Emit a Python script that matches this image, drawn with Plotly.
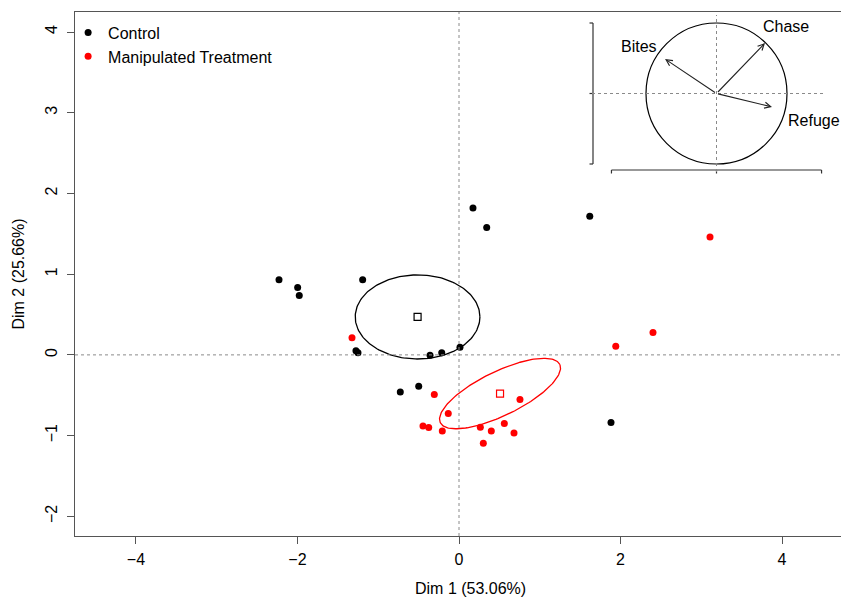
import numpy as np
import plotly.graph_objects as go

# ---------------- data ----------------
group_names = ["Control", "Manipulated Treatment"]

ctrl_x = [-2.229, -1.998, -1.978, -1.193, -1.276, -1.251, -0.359, -0.214, 0.012,
          -0.727, -0.499, 0.173, 0.343, 1.619, 1.882]
ctrl_y = [0.930, 0.835, 0.736, 0.930, 0.050, 0.025, -0.005, 0.025, 0.095,
          -0.459, -0.388, 1.819, 1.579, 1.719, -0.838]

trt_x = [-1.325, -0.306, -0.133, -0.446, -0.375, -0.207, 0.264, 0.400, 0.301,
         0.755, 0.561, 0.681, 1.941, 2.402, 3.108]
trt_y = [0.211, -0.491, -0.726, -0.880, -0.900, -0.942, -0.896, -0.942, -1.095,
         -0.553, -0.850, -0.967, 0.108, 0.278, 1.459]

# confidence ellipses (semi-axes and rotation in degrees)
ell_a = [0.772, 0.823]
ell_b = [0.521, 0.273]
ell_angle = [0.0, 26.0]

# variables factor map (inset)
var_names = ["Chase", "Bites", "Refuge"]
var_x = [0.688, -0.730, 0.787]
var_y = [0.716, 0.489, -0.191]

x_ticks = [-4, -2, 0, 2, 4]
y_ticks = [-2, -1, 0, 1, 2, 3, 4]
x_title = "Dim 1 (53.06%)"
y_title = "Dim 2 (25.66%)"

# inset axis tick positions
inset_xt = [-1.49, 0.0, 1.49]
inset_yt = [-1.0, 0.0, 1.0]

# ---------------- style ----------------
FONT = "Liberation Sans, Arial, Helvetica, sans-serif"
colors = ["black", "red"]
AX = "#555555"
DASH = "#8a8a8a"

fig = go.Figure()

groups = [(ctrl_x, ctrl_y), (trt_x, trt_y)]
for i, (gx, gy) in enumerate(groups):
    fig.add_trace(go.Scatter(
        x=gx, y=gy, mode="markers", name=group_names[i],
        marker=dict(color=colors[i], size=7, line=dict(width=0)),
        hoverinfo="x+y+name"))

for i, (gx, gy) in enumerate(groups):
    cx, cy = float(np.mean(gx)), float(np.mean(gy))
    t = np.linspace(0, 2 * np.pi, 200)
    th = np.deg2rad(ell_angle[i])
    ex = cx + ell_a[i] * np.cos(t) * np.cos(th) - ell_b[i] * np.sin(t) * np.sin(th)
    ey = cy + ell_a[i] * np.cos(t) * np.sin(th) + ell_b[i] * np.sin(t) * np.cos(th)
    fig.add_trace(go.Scatter(x=ex, y=ey, mode="lines", showlegend=False,
                             line=dict(color=colors[i], width=1.3), hoverinfo="skip"))
    fig.add_trace(go.Scatter(x=[cx], y=[cy], mode="markers", showlegend=False,
                             marker=dict(symbol="square-open", size=7, color=colors[i],
                                         line=dict(width=1.2)),
                             hoverinfo="skip"))

# zero dashed lines in main panel
fig.add_shape(type="line", xref="x", yref="paper", x0=0, x1=0, y0=0, y1=1,
              line=dict(color=DASH, width=1, dash="3px,3px"))
fig.add_shape(type="line", xref="paper", yref="y", x0=0, x1=1, y0=0, y1=0,
              line=dict(color=DASH, width=1, dash="3px,3px"))

# ---------------- inset (correlation circle) ----------------
# geometry in page pixels: unit = 70.5 px, centre at (716.5, 93.5)
U = 70.5
L, R, T, B = 75, 841, 12, 536
W, H = R - L, B - T
cxp, cyp = 716.5, 93.5
dx0, dx1 = 585, 841
dy0, dy1 = 12, 185
x2_dom = [(dx0 - L) / W, (dx1 - L) / W]
y2_dom = [(B - dy1) / H, (B - dy0) / H]
x2_rng = [(dx0 - cxp) / U, (dx1 - cxp) / U]
y2_rng = [(cyp - dy1) / U, (cyp - dy0) / U]

fig.add_shape(type="circle", xref="x2", yref="y2", x0=-1, x1=1, y0=-1, y1=1,
              line=dict(color="black", width=1.2))
fig.add_shape(type="line", xref="x2", yref="y2", x0=0, x1=0,
              y0=(cyp - 172) / U, y1=(cyp - 15) / U,
              line=dict(color=DASH, width=1, dash="3px,3px"))
fig.add_shape(type="line", xref="x2", yref="y2", x0=(592 - cxp) / U, x1=(825 - cxp) / U,
              y0=0, y1=0, line=dict(color=DASH, width=1, dash="3px,3px"))

lx = (593 - cxp) / U
by = (cyp - 170) / U
tk = 3.5 / U
ax_x, ax_y = [lx, lx, None], [inset_yt[0], inset_yt[-1], None]
for v in inset_yt:
    ax_x += [lx, lx - tk, None]
    ax_y += [v, v, None]
ax_x += [inset_xt[0], inset_xt[-1], None]
ax_y += [by, by, None]
for v in inset_xt:
    ax_x += [v, v, None]
    ax_y += [by, by - tk, None]
fig.add_trace(go.Scatter(x=ax_x, y=ax_y, mode="lines", xaxis="x2", yaxis="y2",
                         line=dict(color="#333333", width=1.2), showlegend=False,
                         hoverinfo="skip"))

for i, name in enumerate(var_names):
    fig.add_annotation(x=var_x[i], y=var_y[i], ax=0, ay=0, xref="x2", yref="y2",
                       axref="x2", ayref="y2", text="", showarrow=True,
                       arrowhead=5, arrowsize=1.1, arrowwidth=1.1, arrowcolor="#222222",
                       standoff=0)

label_style = {
    "Chase": dict(xanchor="left", yanchor="bottom", xshift=-4, yshift=6),
    "Bites": dict(xanchor="right", yanchor="bottom", xshift=-6, yshift=2),
    "Refuge": dict(xanchor="left", yanchor="top", xshift=14, yshift=-3),
}
for i, name in enumerate(var_names):
    fig.add_annotation(x=var_x[i], y=var_y[i], xref="x2", yref="y2", text=name,
                       showarrow=False, font=dict(size=16, color="black", family=FONT),
                       **label_style[name])

# x axis title (centred where the reference centres it)
fig.add_annotation(x=(470 - L) / W, y=(B - 588) / H, xref="paper", yref="paper",
                   text=x_title, showarrow=False, xanchor="center", yanchor="middle",
                   font=dict(size=16, color="black", family=FONT))

fig.update_layout(
    width=841, height=598,
    margin=dict(l=L, r=841 - R, t=T, b=598 - B),
    paper_bgcolor="white", plot_bgcolor="white",
    font=dict(family=FONT, size=16, color="black"),
    showlegend=True,
    legend=dict(x=-0.009, y=0.993, xanchor="left", yanchor="top",
                bgcolor="rgba(0,0,0,0)", font=dict(size=16), itemwidth=30,
                tracegroupgap=0),
    xaxis=dict(range=[-4.755, 4.73], tickvals=x_ticks, showgrid=False, zeroline=False,
               showline=True, linecolor=AX, linewidth=1, mirror=True,
               ticks="outside", ticklen=7, tickcolor=AX, tickfont=dict(size=16),
               ticklabelstandoff=2),
    yaxis=dict(range=[-2.244, 4.248], tickvals=y_ticks, showgrid=False, zeroline=False,
               showline=True, linecolor=AX, linewidth=1, mirror=False,
               ticks="outside", ticklen=7, tickcolor=AX, tickangle=-90,
               tickfont=dict(size=16), ticklabelstandoff=4,
               title=dict(text=y_title, font=dict(size=16), standoff=13)),
    xaxis2=dict(domain=x2_dom, range=x2_rng, anchor="y2", visible=False, fixedrange=True),
    yaxis2=dict(domain=y2_dom, range=y2_rng, anchor="x2", visible=False, fixedrange=True),
)

fig.write_html(
    "out.html",
    config={"displayModeBar": False},
    post_script="document.body.style.margin='0';document.body.style.overflow='hidden';",
)
